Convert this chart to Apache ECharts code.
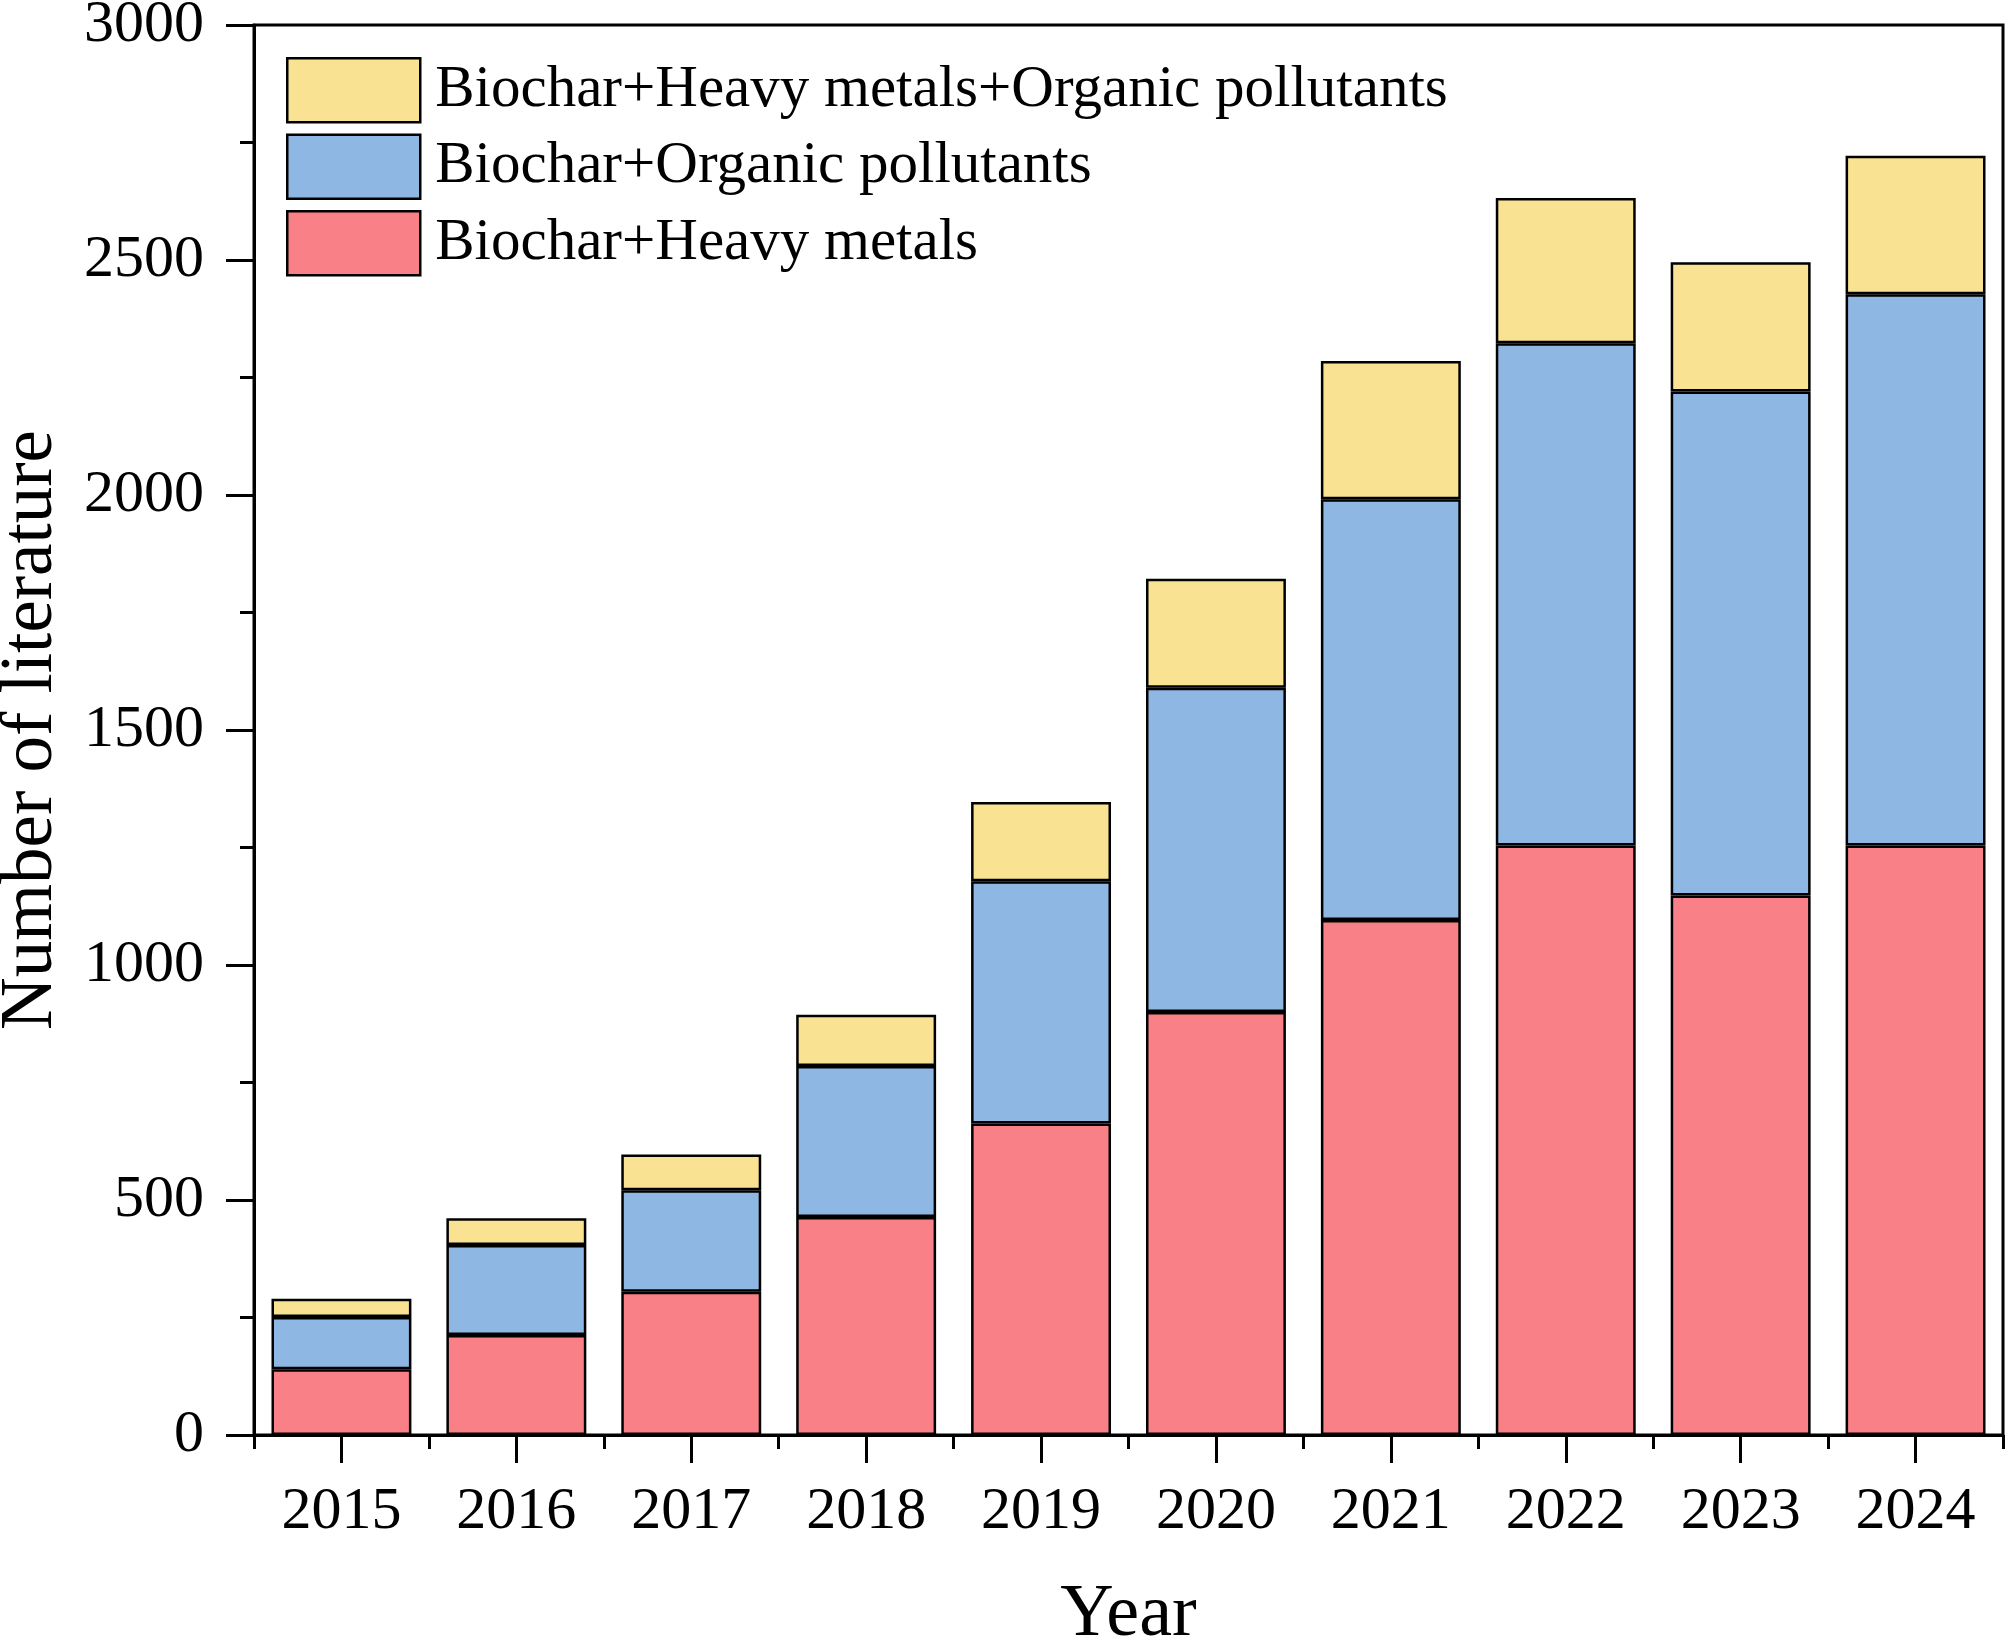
<!DOCTYPE html>
<html>
<head>
<meta charset="utf-8">
<script src="https://cdn.jsdelivr.net/npm/echarts@6/dist/echarts.min.js"></script>
<style>
html,body{margin:0;padding:0;background:#fff;}
#chart{width:2008px;height:1644px;}
</style>
</head>
<body>
<div id="chart"></div>
<script>
const years = ['2015','2016','2017','2018','2019','2020','2021','2022','2023','2024'];
const heavyMetals = [140, 213, 305, 464, 663, 900, 1096, 1254, 1148, 1254];
const organicPollutants = [111, 191, 216, 321, 515, 690, 895, 1069, 1072, 1173];
const both = [39, 57, 76, 109, 169, 232, 294, 309, 275, 295];
const yTicks = [0, 500, 1000, 1500, 2000, 2500, 3000];

const nameHM = 'Biochar+Heavy metals';
const nameOP = 'Biochar+Organic pollutants';
const nameBoth = 'Biochar+Heavy metals+Organic pollutants';
const colRed = '#F98087';
const colBlue = '#8EB7E3';
const colYellow = '#F9E393';
const font = 'Liberation Serif';

const chart = echarts.init(document.getElementById('chart'), null, {renderer:'canvas'});
const barBorder = {borderColor:'#000', borderWidth:2.5};
chart.setOption({
  backgroundColor:'#fff',
  animation:false,
  textStyle:{fontFamily:font, color:'#000'},
  grid:{left:254, right:5, top:25, bottom:209, containLabel:false, outerBoundsMode:'none',
    show:true, borderColor:'#000', borderWidth:3, backgroundColor:'transparent'},
  legend:{
    orient:'vertical', left:286, top:57, padding:0, itemGap:10,
    itemWidth:133, itemHeight:64, icon:'rect',
    data:[nameBoth, nameOP, nameHM],
    textStyle:{fontFamily:font, fontSize:59, color:'#000', padding:[0,0,0,10]},
    itemStyle:{borderColor:'#000', borderWidth:2.5}
  },
  xAxis:[{
    type:'category', data:years, position:'bottom',
    name:'Year', nameLocation:'middle', nameGap:144,
    nameTextStyle:{fontFamily:font, fontSize:74, color:'#000'},
    axisLine:{show:true, lineStyle:{color:'#000', width:3}},
    axisTick:{show:true, alignWithLabel:true, length:28, lineStyle:{color:'#000', width:3}},
    axisLabel:{fontFamily:font, fontSize:60, color:'#000', margin:47},
    splitLine:{show:false}
  },{
    type:'category', data:years, position:'bottom',
    axisLine:{show:false},
    axisTick:{show:true, length:14, lineStyle:{color:'#000', width:3}},
    axisLabel:{show:false},
    splitLine:{show:false}
  }],
  yAxis:{
    type:'value', min:yTicks[0], max:yTicks[yTicks.length-1], interval:500,
    name:'Number of literature', nameLocation:'middle', nameGap:186,
    nameTextStyle:{fontFamily:font, fontSize:73, color:'#000'},
    axisLine:{show:true, lineStyle:{color:'#000', width:3}},
    axisTick:{show:true, length:28, lineStyle:{color:'#000', width:3}},
    minorTick:{show:true, splitNumber:2, length:14, lineStyle:{color:'#000', width:3}},
    axisLabel:{fontFamily:font, fontSize:60, color:'#000', margin:50, formatter:function(v){return String(v);}},
    splitLine:{show:false}
  },
  series:[
    {name:nameHM, type:'bar', stack:'total', data:heavyMetals, barCategoryGap:'20%',
      itemStyle:Object.assign({color:colRed}, barBorder)},
    {name:nameOP, type:'bar', stack:'total', data:organicPollutants, barCategoryGap:'20%',
      itemStyle:Object.assign({color:colBlue}, barBorder)},
    {name:nameBoth, type:'bar', stack:'total', data:both, barCategoryGap:'20%',
      itemStyle:Object.assign({color:colYellow}, barBorder)}
  ]
});
</script>
</body>
</html>
